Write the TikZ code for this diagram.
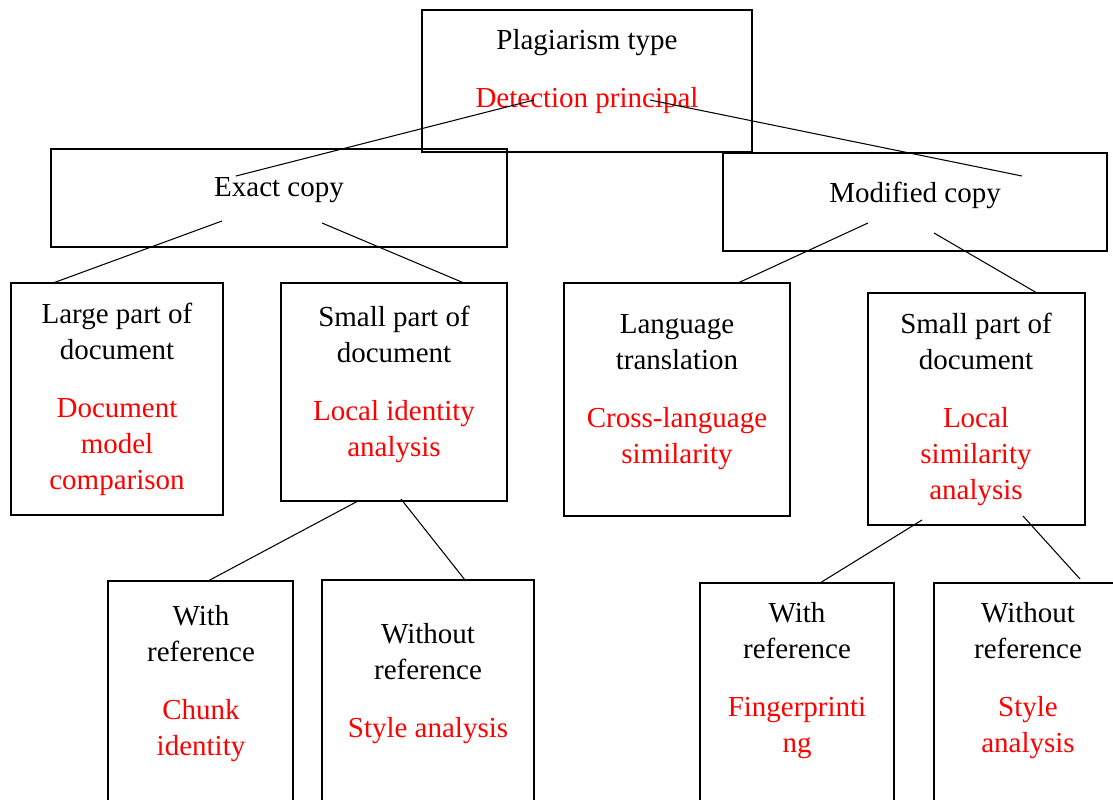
\documentclass[tikz,border=0pt]{standalone}
\usepackage{fontspec}
\setmainfont{Liberation Serif}
\newcommand{\redtxt}[1]{\textcolor{red}{#1}}
\begin{document}
\begin{tikzpicture}[x=0.02cm, y=-0.02cm,
    box/.style={draw, line width=1.6pt, rectangle, inner sep=0pt},
    txt/.style={align=center, inner sep=0pt, yshift=-0.07cm, font=\fontsize{16.5}{20.5}\selectfont},
    link/.style={line width=0.6pt}]

\useasboundingbox (0,0) rectangle (1113,799);

    % Boxes
    \node[box, minimum width=6.6cm,  minimum height=2.84cm] (top)      at (587,81)    {};
    \node[box, minimum width=9.12cm, minimum height=1.96cm] (exact)    at (279,198)   {};
    \node[box, minimum width=7.68cm, minimum height=1.96cm] (modified) at (915,202)   {};
    \node[box, minimum width=4.24cm, minimum height=4.64cm] (large)    at (117,399)   {};
    \node[box, minimum width=4.52cm, minimum height=4.36cm] (smallL)   at (394,392)   {};
    \node[box, minimum width=4.52cm, minimum height=4.66cm] (lang)     at (677,399.5) {};
    \node[box, minimum width=4.34cm, minimum height=4.64cm] (smallR)   at (976.5,409) {};
    \node[box, minimum width=3.7cm,  minimum height=6.38cm] (withL)    at (200.5,740.5) {};
    \node[box, minimum width=4.24cm, minimum height=6.4cm]  (withoutL) at (428,740)   {};
    \node[box, minimum width=3.88cm, minimum height=6.34cm] (withR)    at (797,741.5) {};
    \node[box, minimum width=4.32cm, minimum height=6.34cm] (withoutR) at (1042,741.5) {};

    % Texts
    \node[txt] (toptxt) at (587,68.5) {Plagiarism type\\[12.5pt]\redtxt{Detection principal}};
    \node[txt] (exacttxt) at (279,187) {Exact copy};
    \node[txt] (modifiedtxt) at (915,192) {Modified copy};
    \node[txt] (largetxt) at (117,395.5) {Large part of\\document\\[12.5pt]\redtxt{Document}\\\redtxt{model}\\\redtxt{comparison}};
    \node[txt] (smallLtxt) at (394,381) {Small part of\\document\\[12.5pt]\redtxt{Local identity}\\\redtxt{analysis}};
    \node[txt] (langtxt) at (677,389) {Language\\translation\\[12.5pt]\redtxt{Cross-language}\\\redtxt{similarity}};
    \node[txt] (smallRtxt) at (976,405.5) {Small part of\\document\\[12.5pt]\redtxt{Local}\\\redtxt{similarity}\\\redtxt{analysis}};
    \node[txt] (withLtxt) at (201,680) {With\\reference\\[12.5pt]\redtxt{Chunk}\\\redtxt{identity}};
    \node[txt] (withoutLtxt) at (428,680.5) {Without\\reference\\[12.5pt]\redtxt{Style analysis}};
    \node[txt] (withRtxt) at (797,677) {With\\reference\\[12.5pt]\redtxt{Fingerprinti}\\\redtxt{ng}};
    \node[txt] (withoutRtxt) at (1028,677.5) {Without\\reference\\[12.5pt]\redtxt{Style}\\\redtxt{analysis}};

    % Line ends
    \coordinate (top-l) at (534,100);
    \coordinate (top-r) at (650,100);
    \coordinate (exact-in) at (236,176);
    \coordinate (modified-in) at (1022,176);
    \coordinate (exact-l) at (222,221);
    \coordinate (exact-r) at (322,223);
    \coordinate (large-in) at (53,283);
    \coordinate (smallL-in) at (464,283);
    \coordinate (modified-l) at (868,223);
    \coordinate (modified-r) at (934,233);
    \coordinate (lang-in) at (738,283);
    \coordinate (smallR-in) at (1037,293);
    \coordinate (smallL-l) at (358,501);
    \coordinate (smallL-r) at (401,499);
    \coordinate (withL-in) at (208,581);
    \coordinate (withoutL-in) at (465,580);
    \coordinate (smallR-l) at (922,520);
    \coordinate (smallR-r) at (1023,516);
    \coordinate (withR-in) at (820,583);
    \coordinate (withoutR-in) at (1080,579);

    % Lines
    \draw[link] (top-l) -- (exact-in);
    \draw[link] (top-r) -- (modified-in);
    \draw[link] (exact-l) -- (large-in);
    \draw[link] (exact-r) -- (smallL-in);
    \draw[link] (modified-l) -- (lang-in);
    \draw[link] (modified-r) -- (smallR-in);
    \draw[link] (smallL-l) -- (withL-in);
    \draw[link] (smallL-r) -- (withoutL-in);
    \draw[link] (smallR-l) -- (withR-in);
    \draw[link] (smallR-r) -- (withoutR-in);

\end{tikzpicture}
\end{document}
